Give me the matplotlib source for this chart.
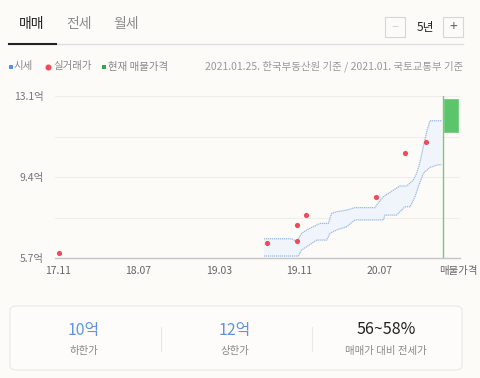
import numpy as np
import matplotlib
matplotlib.use("Agg")
import matplotlib.pyplot as plt
from matplotlib.patches import FancyBboxPatch, Rectangle

plt.rcParams["font.family"] = ["Noto Sans CJK KR", "DejaVu Sans"]

# ── data (x = months since 2017.11, values in 억) ─────────────────
tick_pos = [0, 8, 16, 24, 32, 39.8]
tick_labels = ["17.11", "18.07", "19.03", "19.11", "20.07", "매물가격"]
y_ticks = [5.7, 9.4, 13.1]
y_labels = ["5.7억", "9.4억", "13.1억"]

deal_x = [0.1, 20.8, 23.8, 23.8, 24.7, 31.6, 34.5, 36.6]
deal_y = [5.93, 6.38, 7.21, 6.48, 7.66, 8.49, 10.49, 11.0]

upper_x = [20.5, 23.25, 23.75, 24.25, 24.75, 26.07, 26.9, 27.23, 27.73, 28.72,
           29.55, 31.54, 31.71, 32.37, 32.87, 33.37, 34.03, 34.7, 35.36, 35.69,
           36.02, 36.35, 36.69, 37.01, 38.18]
upper_y = [6.58, 6.58, 6.45, 6.83, 6.98, 7.28, 7.28, 7.74, 7.81, 7.89,
           8.0, 8.0, 8.12, 8.5, 8.65, 8.8, 8.99, 8.99, 9.26, 9.57,
           10.1, 10.78, 11.47, 11.97, 11.97]

lower_x = [20.5, 23.9, 24.25, 24.75, 25.74, 26.74, 27.07, 27.73, 28.72, 29.55,
           30.71, 32.37, 32.54, 33.7, 34.53, 35.03, 35.52, 35.86, 36.35, 37.01,
           37.84, 38.18]
lower_y = [5.79, 5.79, 6.07, 6.22, 6.52, 6.52, 6.83, 6.98, 7.13, 7.44,
           7.44, 7.44, 7.66, 7.66, 8.04, 8.04, 8.5, 8.96, 9.57, 9.84,
           9.96, 9.96]

listing_x = 38.3
listing_low, listing_high = 11.46, 12.96

summary_values = ["10억", "12억", "56~58%"]
summary_labels = ["하한가", "상한가", "매매가 대비 전세가"]

# ── figure ────────────────────────────────────────────────────────
W, H = 480, 378
bg = "#fcfbf8"
fig = plt.figure(figsize=(W / 100, H / 100), dpi=100, facecolor=bg)


def fx(x):
    return x / W


def fy(y):
    return 1 - y / H


# header tabs
for label, cx, col, wt in [("매매", 32, "#222222", "medium"),
                           ("전세", 79, "#8a8a8a", "normal"),
                           ("월세", 126, "#8a8a8a", "normal")]:
    fig.text(fx(cx), fy(24), label, ha="center", va="center",
             fontsize=10, color=col, fontweight=wt)
fig.add_artist(plt.Line2D([fx(9), fx(463)], [fy(44), fy(44)], color="#dddddd", lw=1))
fig.add_artist(plt.Line2D([fx(9), fx(56)], [fy(44), fy(44)], color="#222222", lw=1.5))

# period buttons
for x0 in (385, 443):
    fig.add_artist(Rectangle((fx(x0), fy(37)), fx(20), 20 / H, fill=False,
                             edgecolor="#d6d6d6", lw=0.8))
fig.text(fx(395), fy(27), "−", ha="center", va="center", fontsize=9, color="#cccccc")
fig.text(fx(453), fy(27), "+", ha="center", va="center", fontsize=10, color="#666666")
fig.text(fx(425), fy(27), "5년", ha="center", va="center", fontsize=8.5, color="#222222")

# legend row
fig.add_artist(Rectangle((fx(9), fy(69)), fx(4), 4 / H, color="#5b8fe0", lw=0))
fig.text(fx(14), fy(66.5), "시세", ha="left", va="center", fontsize=7.5, color="#888888")
fig.add_artist(plt.Line2D([fx(48)], [fy(66.5)], marker="o", markersize=3.3,
                          color="#f04a5b", lw=0))
fig.text(fx(53), fy(66.5), "실거래가", ha="left", va="center", fontsize=7.5, color="#888888")
fig.add_artist(Rectangle((fx(102), fy(69)), fx(4), 4 / H, color="#2ea84a", lw=0))
fig.text(fx(108), fy(66.5), "현재 매물가격", ha="left", va="center", fontsize=7.5, color="#888888")
fig.text(fx(463), fy(66.5), "2021.01.25. 한국부동산원 기준 / 2021.01. 국토교통부 기준",
         ha="right", va="center", fontsize=7.5, color="#999999")

# ── chart ─────────────────────────────────────────────────────────
ax = fig.add_axes([fx(55), fy(258), fx(460 - 55), (258 - 96) / H])
ax.set_facecolor(bg)
ax.set_xlim(-0.3, 40)
ax.set_ylim(5.7, 13.1)

for g in np.linspace(5.7, 13.1, 5):
    ax.axhline(g, color="#efeeea", lw=0.8, zorder=0)

band_x = np.concatenate([upper_x, lower_x[::-1]])
band_y = np.concatenate([upper_y, lower_y[::-1]])
ax.fill(band_x, band_y, color="#f0f5fb", lw=0, zorder=1)
ax.plot(upper_x, upper_y, color="#9bb8e3", lw=0.9, ls=(0, (1, 0.6)), zorder=2)
ax.plot(lower_x, lower_y, color="#9bb8e3", lw=0.9, ls=(0, (1, 0.6)), zorder=2)

ax.scatter(deal_x, deal_y, s=14, color="#f04a5b", zorder=4, clip_on=False, lw=0)

ax.axvline(listing_x, color="#7cc47f", lw=1, zorder=3)
ax.bar(39.1, listing_high - listing_low, bottom=listing_low, width=1.4,
       color="#5cc46a", edgecolor="#6fcf7c", lw=0.6, zorder=3)

for s in ("top", "right", "left"):
    ax.spines[s].set_visible(False)
ax.spines["bottom"].set_color("#c4c4c4")
ax.spines["bottom"].set_linewidth(1)

ax.set_xticks(tick_pos)
ax.set_xticklabels(tick_labels, fontsize=7.5, color="#666666")
ax.set_yticks(y_ticks)
ax.set_yticklabels(y_labels, fontsize=7.5, color="#777777")
ax.tick_params(axis="both", length=0)
ax.tick_params(axis="x", pad=6)
ax.tick_params(axis="y", pad=8)

# ── summary card ──────────────────────────────────────────────────
card = FancyBboxPatch((fx(10), fy(370)), fx(452), 64 / H,
                      boxstyle="round,pad=0,rounding_size=0.012",
                      facecolor="#fdfcfa", edgecolor="#e9e9e6", lw=0.8,
                      transform=fig.transFigure)
fig.add_artist(card)

centers = [84, 235, 386]
value_colors = ["#5b95e0", "#5b95e0", "#222222"]
for cx, val, lab, col in zip(centers, summary_values, summary_labels, value_colors):
    fig.text(fx(cx), fy(330), val, ha="center", va="center", fontsize=11.5, color=col)
    fig.text(fx(cx), fy(351), lab, ha="center", va="center", fontsize=7.5, color="#8a8a8a")
for sx in (161, 312):
    fig.add_artist(plt.Line2D([fx(sx), fx(sx)], [fy(327), fy(351)], color="#e8e8e8", lw=0.8))

plt.savefig("out.png", dpi=100, facecolor=bg)
